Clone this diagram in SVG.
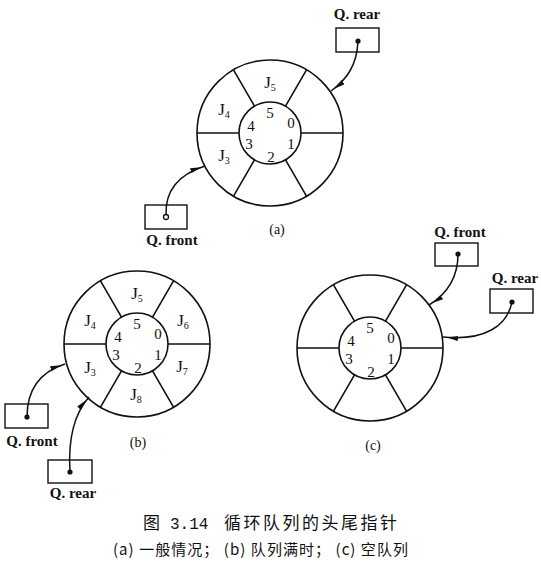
<svg xmlns="http://www.w3.org/2000/svg" xmlns:xlink="http://www.w3.org/1999/xlink" width="541" height="573" viewBox="0 0 541 573">
<style>
.ln{fill:none;stroke:#111;stroke-width:1.6}
.box{fill:#fff;stroke:#111;stroke-width:1.4}
.dig{font-family:"Liberation Serif",serif;font-size:15px;fill:#111;text-anchor:middle}
.jl{font-family:"Liberation Serif",serif;font-size:17px;fill:#111;text-anchor:middle}
.sub{font-size:10px}
.ql{font-family:"Liberation Serif",serif;font-size:15px;font-weight:bold;fill:#111;text-anchor:middle}
.cap{font-family:"Liberation Serif",serif;font-size:14px;fill:#111;text-anchor:middle}
.cn{font-family:"Noto Sans CJK SC",sans-serif;fill:#111}
.conn{fill:none;stroke:#111;stroke-width:1.5;marker-end:url(#ah)}
</style>
<defs>
<marker id="ah" markerUnits="userSpaceOnUse" markerWidth="11" markerHeight="6" refX="15" refY="2.5" orient="auto">
<path d="M0,0 L11,2.5 L0,5 z" fill="#111"/>
</marker>
<g id="ring">
<circle class="ln" r="73"/>
<circle class="ln" r="31"/>
<path class="ln" d="M31,0 L73,0 M-31,0 L-73,0 M15.5,-26.8 L36.5,-63.2 M-15.5,-26.8 L-36.5,-63.2 M15.5,26.8 L36.5,63.2 M-15.5,26.8 L-36.5,63.2"/>
<text class="dig" x="0" y="-15">5</text>
<text class="dig" x="21" y="-5">0</text>
<text class="dig" x="-19" y="-2">4</text>
<text class="dig" x="-21" y="16">3</text>
<text class="dig" x="21" y="16">1</text>
<text class="dig" x="1" y="29">2</text>
</g>
</defs>

<g id="queue-a" transform="translate(270,133)">
<use xlink:href="#ring" href="#ring"/>
<text class="jl" x="0" y="-45">J<tspan class="sub" dy="3">5</tspan></text>
<text class="jl" x="-46" y="-18">J<tspan class="sub" dy="3">4</tspan></text>
<text class="jl" x="-46" y="28">J<tspan class="sub" dy="3">3</tspan></text>
</g>
<g id="a-rear">
<text class="ql" x="357" y="19">Q. rear</text>
<rect class="box" x="336" y="28" width="43" height="24"/>
<circle cx="358" cy="41" r="2.6" fill="#111"/>
</g>
<g id="a-front">
<rect class="box" x="145" y="205" width="42" height="24"/>
<circle cx="166" cy="217" r="2.5" fill="#fff" stroke="#111" stroke-width="1.3"/>
<text class="ql" x="172" y="245">Q. front</text>
</g>
<text class="cap" x="277" y="234">(a)</text>

<g id="queue-b" transform="translate(137,344)">
<use xlink:href="#ring" href="#ring"/>
<text class="jl" x="0" y="-45">J<tspan class="sub" dy="3">5</tspan></text>
<text class="jl" x="-47" y="-18">J<tspan class="sub" dy="3">4</tspan></text>
<text class="jl" x="46" y="-18">J<tspan class="sub" dy="3">6</tspan></text>
<text class="jl" x="-47" y="29">J<tspan class="sub" dy="3">3</tspan></text>
<text class="jl" x="45" y="28">J<tspan class="sub" dy="3">7</tspan></text>
<text class="jl" x="-1" y="56">J<tspan class="sub" dy="3">8</tspan></text>
</g>
<g id="b-front">
<rect class="box" x="5" y="404" width="43" height="24"/>
<circle cx="27" cy="417" r="2.6" fill="#111"/>
<text class="ql" x="32" y="446">Q. front</text>
</g>
<g id="b-rear">
<rect class="box" x="48" y="460" width="44" height="23"/>
<circle cx="70" cy="472" r="2.6" fill="#111"/>
<text class="ql" x="73" y="498">Q. rear</text>
</g>
<text class="cap" x="138" y="447">(b)</text>

<g id="queue-c" transform="translate(370,348)">
<use xlink:href="#ring" href="#ring"/>
</g>
<g id="c-front">
<text class="ql" x="460" y="237">Q. front</text>
<rect class="box" x="435" y="243" width="43" height="23"/>
<circle cx="458" cy="254" r="2.6" fill="#111"/>
</g>
<g id="c-rear">
<text class="ql" x="515" y="283">Q. rear</text>
<rect class="box" x="490" y="289" width="43" height="24"/>
<circle cx="512" cy="302" r="2.6" fill="#111"/>
</g>
<text class="cap" x="373" y="450">(c)</text>

<g id="connectors">
<path class="conn" d="M358,41 C357,66 346,80 331,91"/>
<path class="conn" d="M166,215 C165,190 180,174 205,166"/>
<path class="conn" d="M27,417 C27,390 40,372 65,364"/>
<path class="conn" d="M70,472 C68,440 74,414 89,397"/>
<path class="conn" d="M458,254 C458,278 447,294 429,305"/>
<path class="conn" d="M512,302 C507,326 485,341 443,337"/>
</g>

<g id="caption">
<text class="cn" x="143" y="529" font-size="17">图</text>
<text x="170" y="529" font-family="Liberation Mono,monospace" font-size="16" fill="#111">3.14</text>
<text class="cn" x="224" y="529" font-size="17" textLength="173" lengthAdjust="spacing">循环队列的头尾指针</text>
<text class="cn" x="113" y="555" font-size="15" textLength="295" lengthAdjust="spacing">(a) 一般情况； (b) 队列满时； (c) 空队列</text>
</g>
</svg>
